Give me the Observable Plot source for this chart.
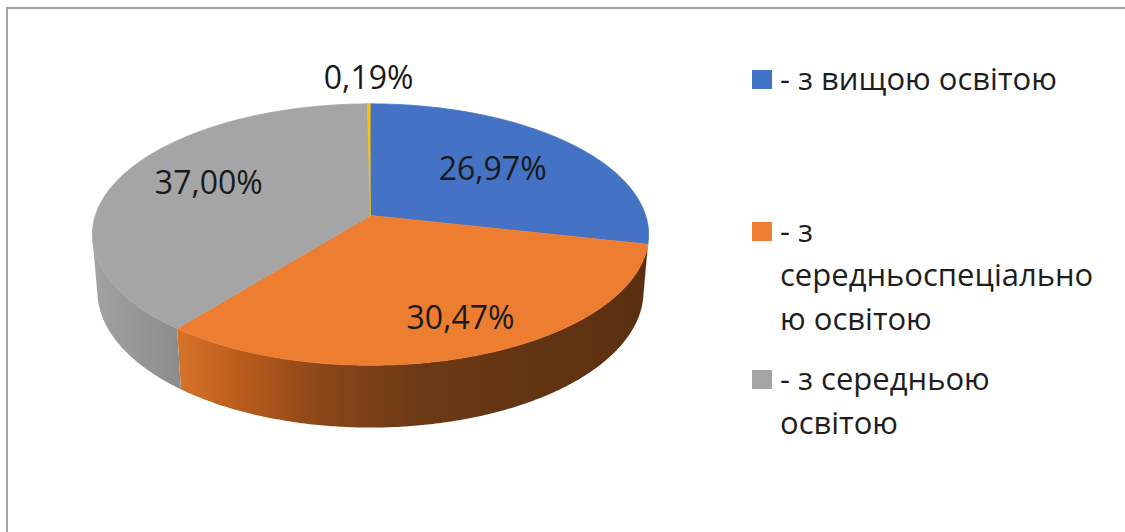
<!DOCTYPE html>
<html><head><meta charset="utf-8">
<script src="https://cdn.jsdelivr.net/npm/d3@7"></script>
<script src="https://cdn.jsdelivr.net/npm/@observablehq/plot@0.6"></script>
<style>
html,body{margin:0;padding:0;background:#fff;}
#wrap{position:relative;width:1125px;height:532px;overflow:hidden;font-family:"Open Sans",sans-serif;}
#chart{position:absolute;left:0;top:0;}
.border-top{position:absolute;left:6px;top:7px;right:0;height:2px;background:#a3a3a3;}
.border-left{position:absolute;left:6px;top:7px;bottom:0;width:2px;background:#a3a3a3;}
.legend-item{position:absolute;left:752px;}
.legend-item .sw{position:absolute;left:0;width:20px;height:19px;}
.legend-item .txt{position:absolute;left:28px;white-space:nowrap;font-size:31px;line-height:44px;color:#1e1e1e;}
</style></head>
<body><div id="wrap"><div id="chart"></div><div class="border-top"></div><div class="border-left"></div><div id="legend"></div></div>
<script>
// ---- data ----
const categories = ["з вищою освітою", "з середньоспеціальною освітою", "з середньою освітою", "інше"];
const values = [26.97, 30.47, 37.00, 0.19];
const valueLabels = ["26,97%", "30,47%", "37,00%", "0,19%"];
const colors = ["#4472C4", "#ED7D31", "#A5A5A5", "#FFC000"];
const legendLines = [["- з вищою освітою"], ["- з", "середньоспеціально", "ю освітою"], ["- з середньою", "освітою"]];

// ---- layout / 3D projection ----
const W = 1125, H = 532;
const cx = 370, cy = 215, f = 1670, D = 6.07, sa = 0.465, ca = Math.sqrt(1 - sa * sa), depth = 0.234;
function proj(theta, r, h) {
  const xw = r * Math.sin(theta), d = r * Math.cos(theta);
  const z = D + d * ca - h * sa;
  const up = d * sa + h * ca;
  return {x: cx + f * xw / z, y: cy - f * up / z};
}
function arcPts(a0, a1, r, h) {
  const n = Math.max(2, Math.ceil((a1 - a0) / (Math.PI / 360)));
  return d3.range(n + 1).map(i => proj(a0 + (a1 - a0) * i / n, r, h));
}
const arcs = d3.pie().sort(null).value(d => d)(values);
const tops = arcs.map(a => [proj(0, 0, 0), ...arcPts(a.startAngle, a.endAngle, 1, 0)]);
const sMin = Math.acos(-1 / (D * ca)), sMax = 2 * Math.PI - sMin;
const sides = arcs.map(a => {
  const b0 = Math.max(a.startAngle, sMin), b1 = Math.min(a.endAngle, sMax);
  if (b1 <= b0) return null;
  return [...arcPts(b0, b1, 1, 0), ...arcPts(b0, b1, 1, -depth).reverse()];
});
const labelR = [0.6, 0.78, 0.64, 1.27];
const labelDx = [0, 10, 0, 0];
const labelDy = [0, -2, -6, 0];
const labelData = arcs.map((a, i) => ({...proj((a.startAngle + a.endAngle) / 2, labelR[i], 0), label: valueLabels[i], dx: labelDx[i], dy: labelDy[i]}));

const marks = [];
sides.forEach((pts, i) => { if (pts) marks.push(Plot.line(pts, {x: "x", y: "y", fill: `url(#side${i})`, stroke: "none"})); });
tops.forEach((pts, i) => marks.push(Plot.line(pts, {x: "x", y: "y", fill: colors[i], stroke: colors[i], strokeWidth: 0.8})));
labelData.forEach(d => marks.push(Plot.text([d], {x: "x", y: "y", text: "label", dx: d.dx, dy: d.dy, fontSize: 32, fill: "#1a1a1a", fontFamily: "Open Sans"})));

const svg = Plot.plot({
  width: W, height: H, margin: 0,
  x: {domain: [0, W], axis: null},
  y: {domain: [H, 0], axis: null},
  style: {background: "transparent"},
  marks
});
const ns = "http://www.w3.org/2000/svg";
const defs = document.createElementNS(ns, "defs");
defs.innerHTML = `
<linearGradient id="side0" x1="0" x2="1" y1="0" y2="0"><stop offset="0" stop-color="#2f528f"/><stop offset="1" stop-color="#203864"/></linearGradient>
<linearGradient id="side1" x1="0" x2="1" y1="0" y2="0">
 <stop offset="0" stop-color="#d87229"/><stop offset="0.14" stop-color="#b85c1d"/><stop offset="0.3" stop-color="#8c4718"/>
 <stop offset="0.5" stop-color="#6d3a16"/><stop offset="1" stop-color="#5a2f10"/></linearGradient>
<linearGradient id="side2" x1="0" x2="1" y1="0" y2="0"><stop offset="0" stop-color="#a2a2a2"/><stop offset="1" stop-color="#8c8c8c"/></linearGradient>
<linearGradient id="side3" x1="0" x2="1" y1="0" y2="0"><stop offset="0" stop-color="#bf9000"/><stop offset="1" stop-color="#bf9000"/></linearGradient>`;
svg.insertBefore(defs, svg.firstChild);
document.getElementById("chart").appendChild(svg);

// ---- legend ----
const legendTops = [56, 208, 356];
const legend = document.getElementById("legend");
legendLines.forEach((lines, i) => {
  const item = document.createElement("div");
  item.className = "legend-item";
  item.style.top = legendTops[i] + "px";
  item.innerHTML = `<div class="sw" style="top:14px;background:${colors[i]}"></div><div class="txt">${lines.join("<br>")}</div>`;
  legend.appendChild(item);
});
</script>
</body></html>
